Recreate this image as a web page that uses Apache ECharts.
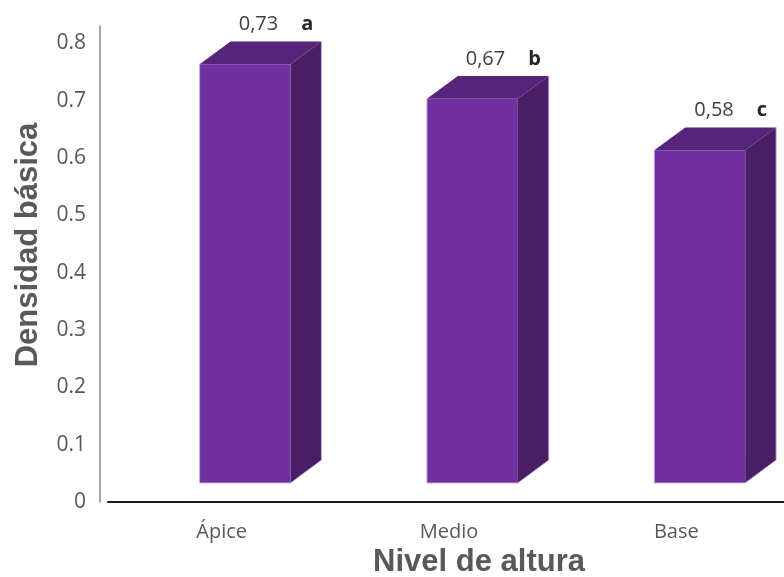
<!DOCTYPE html>
<html>
<head>
<meta charset="utf-8">
<script src="https://cdn.jsdelivr.net/npm/echarts@6/dist/echarts.min.js"></script>
<style>
  html, body { margin: 0; padding: 0; background: #ffffff; }
  #chart { width: 784px; height: 577px; }
</style>
</head>
<body>
<div id="chart"></div>
<script>
// Densidad básica por nivel de altura del fuste
const categories = ['Ápice', 'Medio', 'Base'];
const densidad = [0.73, 0.67, 0.58];
const letras = ['a', 'b', 'c'];
const yMin = 0;
const yMax = 0.83;      // a little headroom above the last labelled tick
const yInterval = 0.1;

// 3D look of the columns
const FRONT = '#7030A0';
const SIDE = '#4A1E64';
const TOP = '#56247B';
const EDGE = 'rgba(196,176,222,0.9)';
const LIFT = 19;          // front plane sits above the floor line
const BAR_W = 0.40;       // front face width, share of category band
const BAR_SHIFT = -0.097; // front face left edge relative to band centre
const DEPTH = 0.136;      // horizontal depth, share of band
const SLOPE = 0.74;       // vertical depth / horizontal depth

function fmt(v) { return v.toFixed(2).replace('.', ','); }

function renderColumn(params, api) {
  const i = api.value(0);
  const v = api.value(1);
  const band = api.size([1, 0])[0];
  const base = api.coord([i, 0]);
  const top = api.coord([i, v]);
  const w = band * BAR_W;
  const dx = band * DEPTH;
  const dy = dx * SLOPE;
  const x0 = base[0] + band * BAR_SHIFT;
  const x1 = x0 + w;
  const yb = base[1] - LIFT;
  const yt = top[1] - LIFT;
  return {
    type: 'group',
    children: [
      { type: 'polygon', shape: { points: [[x1, yt], [x1 + dx, yt - dy], [x1 + dx, yb - dy], [x1, yb]] },
        style: { fill: SIDE } },
      { type: 'polygon', shape: { points: [[x0, yt], [x0 + dx, yt - dy], [x1 + dx, yt - dy], [x1, yt]] },
        style: { fill: TOP } },
      { type: 'rect', shape: { x: x0, y: yt, width: w, height: yb - yt },
        style: { fill: FRONT } },
      { type: 'polyline', shape: { points: [[x0, yt], [x0, yb], [x1, yb], [x1 + dx, yb - dy], [x1 + dx, yt - dy]] },
        style: { stroke: EDGE, lineWidth: 1, fill: null } },
      { type: 'text', x: x0 + w / 2 + dx, y: yt - dy - 17,
        style: {
          text: '{v|' + fmt(v) + '}{l|' + letras[params.dataIndex] + '}',
          align: 'center', verticalAlign: 'middle',
          rich: {
            v: { fontFamily: 'Open Sans', fontSize: 20, fill: '#404040' },
            l: { fontFamily: 'Open Sans', fontSize: 20, fontWeight: 'bold', fill: '#262626', padding: [0, 0, 0, 23] }
          }
        } }
    ]
  };
}

const chart = echarts.init(document.getElementById('chart'), null, { renderer: 'canvas' });
chart.setOption({
  animation: false,
  backgroundColor: '#ffffff',
  grid: { left: 108, right: -6, top: 26, bottom: 75, outerBoundsMode: 'none', containLabel: false },
  xAxis: {
    type: 'category',
    data: categories,
    offset: 6,
    axisLine: { lineStyle: { color: '#1a1a1a', width: 2 } },
    axisTick: { show: false },
    axisLabel: { fontFamily: 'Open Sans', fontSize: 20, color: '#595959', margin: 14 },
    splitLine: { show: false }
  },
  yAxis: {
    type: 'value',
    min: yMin, max: yMax, interval: yInterval,
    offset: 8,
    axisLine: { show: true, lineStyle: { color: '#8a8a8a', width: 1.5 } },
    axisTick: { show: false },
    splitLine: { show: false },
    axisLabel: { fontFamily: 'Open Sans', fontSize: 21, color: '#595959', margin: 14, showMaxLabel: false }
  },
  series: [{
    type: 'custom',
    renderItem: renderColumn,
    data: densidad.map((v, i) => [i, v]),
    clip: false
  }],
  graphic: [
    { type: 'text', x: 479, y: 562,
      style: { text: 'Nivel de altura', font: 'bold 31px "Liberation Sans", Arial, sans-serif', fill: '#595959', align: 'center', verticalAlign: 'middle' } },
    { type: 'text', x: 28, y: 245, rotation: Math.PI / 2,
      style: { text: 'Densidad básica', font: 'bold 31px "Liberation Sans", Arial, sans-serif', fill: '#595959', align: 'center', verticalAlign: 'middle' } }
  ]
});
</script>
</body>
</html>
